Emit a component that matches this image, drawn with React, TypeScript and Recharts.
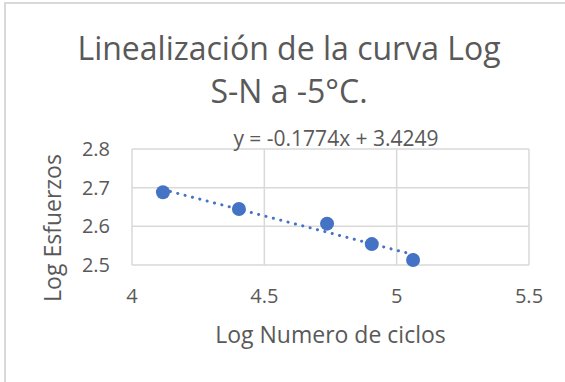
import React from "react";
import {
  ScatterChart,
  Scatter,
  XAxis,
  YAxis,
  CartesianGrid,
  Label,
} from "recharts";

const logCycles = [4.117, 4.404, 4.737, 4.906, 5.062];
const logStress = [2.688, 2.645, 2.607, 2.554, 2.513];
const trendX = [4.117, 5.062];
const trendY = [2.695, 2.527];
const xTicks = [4, 4.5, 5, 5.5];
const yTicks = [2.5, 2.6, 2.7, 2.8];
const titleLines = ["Linealización de la curva Log", "S-N a -5°C."];
const equation = "y = -0.1774x + 3.4249";

const points = logCycles.map((x, i) => ({ x, y: logStress[i] }));
const trend = trendX.map((x, i) => ({ x, y: trendY[i] }));

const BLUE = "#4472C4";
const TEXT = "#595959";
const GRID = "#d9d9d9";
const FONT = "'Open Sans', sans-serif";

const Dot = (props: any) => (
  <circle cx={props.cx} cy={props.cy} r={7} fill={BLUE} />
);
const NoDot = () => <g />;

export default function App() {
  return (
    <div
      style={{
        position: "absolute",
        left: 0,
        top: 0,
        width: 565,
        height: 382,
        overflow: "hidden",
        background: "#fff",
        fontFamily: FONT,
      }}
    >
      <div
        style={{
          position: "absolute",
          left: 4,
          top: 2,
          width: 570,
          height: 400,
          borderLeft: `2px solid ${GRID}`,
          borderTop: `2px solid ${GRID}`,
        }}
      />
      <div
        style={{
          position: "absolute",
          left: 5,
          top: 26,
          width: 568,
          textAlign: "center",
          fontSize: 32,
          lineHeight: "43px",
          color: TEXT,
        }}
      >
        {titleLines.map((t) => (
          <div key={t}>{t}</div>
        ))}
      </div>
      <div style={{ position: "absolute", left: 0, top: 0 }}>
        <ScatterChart
          width={565}
          height={382}
          margin={{ top: 149, right: 36, bottom: 57, left: 0 }}
        >
          <CartesianGrid stroke={GRID} strokeWidth={1.5} />
          <XAxis
            type="number"
            dataKey="x"
            domain={[4, 5.5]}
            ticks={xTicks}
            axisLine={false}
            tickLine={false}
            tickMargin={18}
            height={60}
            tick={{ fill: TEXT, fontSize: 20, fontFamily: FONT }}
          >
            <Label
              content={({ viewBox }: any) => (
                <text
                  x={viewBox.x + viewBox.width / 2}
                  y={viewBox.y + 78}
                  textAnchor="middle"
                  fill={TEXT}
                  fontSize={23}
                  fontFamily={FONT}
                >
                  Log Numero de ciclos
                </text>
              )}
            />
          </XAxis>
          <YAxis
            type="number"
            dataKey="y"
            domain={[2.5, 2.8]}
            ticks={yTicks}
            axisLine={false}
            tickLine={false}
            tickMargin={16}
            width={132}
            tick={{ fill: TEXT, fontSize: 20, fontFamily: FONT }}
          >
            <Label
              content={({ viewBox }: any) => (
                <text
                  x={61}
                  y={viewBox.y + viewBox.height / 2 + 21}
                  textAnchor="middle"
                  transform={`rotate(-90 61 ${viewBox.y + viewBox.height / 2 + 21})`}
                  fill={TEXT}
                  fontSize={23}
                  fontFamily={FONT}
                >
                  Log Esfuerzos
                </text>
              )}
            />
          </YAxis>
          <Scatter
            data={trend}
            line={{
              stroke: BLUE,
              strokeWidth: 3,
              strokeDasharray: "0.1 7.5",
              strokeLinecap: "round",
            }}
            shape={NoDot}
            isAnimationActive={false}
          />
          <Scatter
            data={points}
            fill={BLUE}
            shape={Dot}
            isAnimationActive={false}
          />
        </ScatterChart>
      </div>
      <div
        style={{
          position: "absolute",
          left: 336 - 150,
          top: 127,
          width: 300,
          textAlign: "center",
          fontSize: 21,
          color: TEXT,
          lineHeight: "22px",
        }}
      >
        {equation}
      </div>
    </div>
  );
}
